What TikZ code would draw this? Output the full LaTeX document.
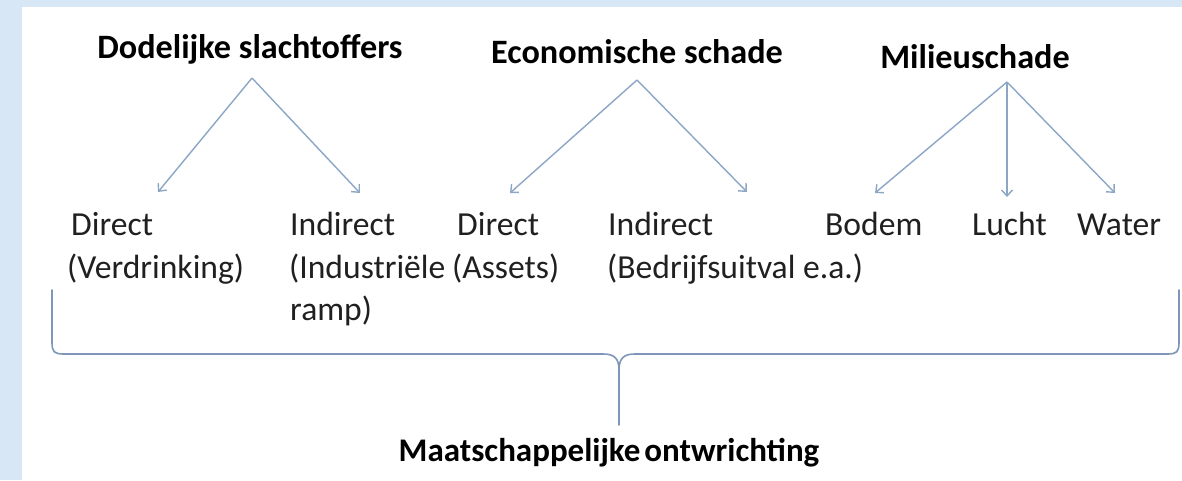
\documentclass[tikz,border=0pt]{standalone}
\usepackage{fontspec}
\setmainfont{Carlito}
\usetikzlibrary{arrows.meta}
\definecolor{bgblue}{HTML}{D7E7F6}
\definecolor{linkblue}{HTML}{8CA6C6}
\definecolor{braceblue}{HTML}{7E97B8}
\definecolor{txt}{HTML}{202020}
\tikzset{
  title/.style={anchor=base, inner sep=0pt, font=\fontsize{34.2}{40}\selectfont\bfseries, text=black},
  item/.style={anchor=base west, inner sep=0pt, font=\fontsize{33.6}{40}\selectfont, text=txt},
  link/.style={draw=linkblue, line width=1.4pt, -{Straight Barb[length=6pt,width=11pt,line width=1.4pt]}},
  bracepath/.style={draw=braceblue, line width=1.6pt, line cap=round, line join=round}
}
\begin{document}
\begin{tikzpicture}[x=1pt,y=-1pt]
\useasboundingbox (0,0) rectangle (1182,480);
\fill[bgblue] (0,0) rectangle (1182,480);
\fill[white] (22,7) rectangle (1182,480);

% titles
\node[title] (dod) at (250,58) {Dodelijke slachtoffers};
\node[title] (eco) at (637,63) {Economische schade};
\node[title] (mil) at (975,68) {Milieuschade};
\node[title, font=\fontsize{33}{40}\selectfont\bfseries] (maat) at (609,461) {Maatschappelijke\hspace{0.12em}ontwrichting};

% items
\node[item] (d1) at (71,235) {Direct};
\node[item] (d1b) at (67,278) {(Verdrinking)};
\node[item] (i1) at (290,235) {Indirect};
\node[item] (i1b) at (289,278) {(Industriële};
\node[item] (i1c) at (290,320) {ramp)};
\node[item] (d2) at (457,235) {Direct};
\node[item] (d2b) at (452,278) {(Assets)};
\node[item] (i2) at (608,235) {Indirect};
\node[item] (i2b) at (607,278) {(Bedrijfsuitval e.a.)};
\node[item] (bod) at (825,235) {Bodem};
\node[item] (luc) at (972,235) {Lucht};
\node[item] (wat) at (1077,235) {Water};

% connector points
\coordinate (dodA) at (252,78);
\coordinate (dodL) at (158,192);
\coordinate (dodR) at (360,193);
\coordinate (ecoA) at (637,80);
\coordinate (ecoL) at (510,193);
\coordinate (ecoR) at (747,192);
\coordinate (milA) at (1007,82);
\coordinate (milL) at (875,193);
\coordinate (milM) at (1007,197);
\coordinate (milR) at (1115,193);

\draw[link] (dodA) -- (dodL);
\draw[link] (dodA) -- (dodR);
\draw[link] (ecoA) -- (ecoL);
\draw[link] (ecoA) -- (ecoR);
\draw[link] (milA) -- (milL);
\draw[link] (milA) -- (milM);
\draw[link] (milA) -- (milR);

% brace
\coordinate (brL) at (52,290);
\coordinate (brR) at (1179,290);
\coordinate (brT) at (619,425);
\draw[bracepath] (brL) -- (52,342) .. controls (52,352) and (54,354) .. (64,354)
  -- (603,354) .. controls (614,354) and (619,358) .. (619,370) -- (brT);
\draw[bracepath] (brR) -- (1179,342) .. controls (1179,352) and (1177,354) .. (1167,354)
  -- (635,354) .. controls (624,354) and (619,358) .. (619,370);
\end{tikzpicture}
\end{document}
